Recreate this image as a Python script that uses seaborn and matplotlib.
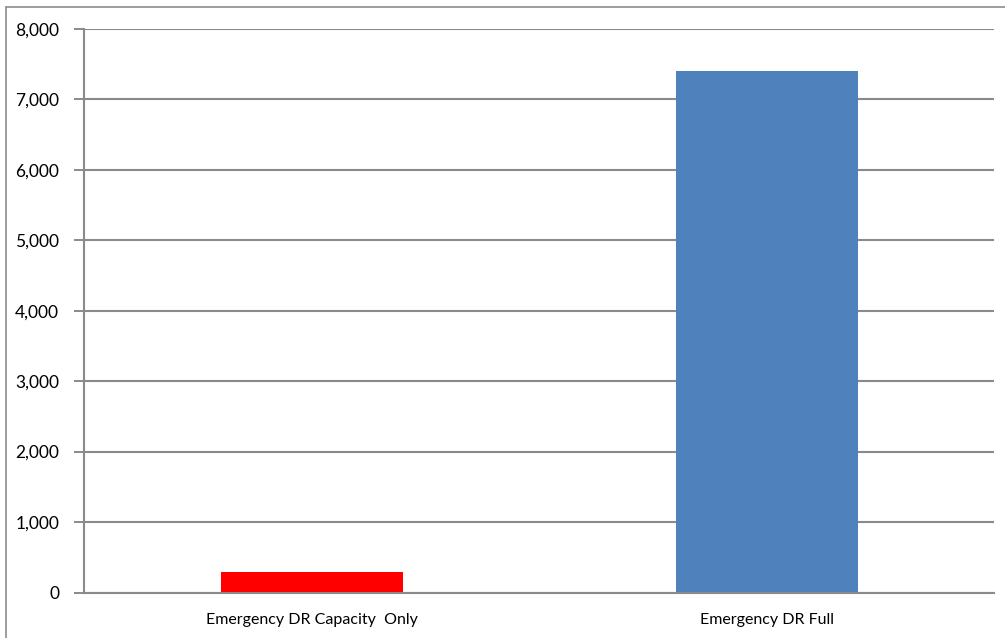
import matplotlib
matplotlib.use("Agg")
import matplotlib.pyplot as plt
from matplotlib.lines import Line2D
import seaborn as sns
import pandas as pd

categories = ["Emergency DR Capacity  Only", "Emergency DR Full"]
values = [290, 7400]
bar_colors = ["#FF0000", "#4F81BD"]
y_ticks = [0, 1000, 2000, 3000, 4000, 5000, 6000, 7000, 8000]

sns.set_theme(style="white")
plt.rcParams['font.family'] = ['Lato', 'DejaVu Sans']

df = pd.DataFrame({"category": categories, "value": values})

fig = plt.figure(figsize=(10.05, 6.38), dpi=100)
ax = fig.add_axes([84/1005, 1-592.5/638, (994-84)/1005, (592.5-29)/638])

sns.barplot(data=df, x="category", y="value", hue="category", palette=bar_colors,
            width=0.4, legend=False, ax=ax, saturation=1, zorder=3,
            linewidth=0, edgecolor="none")

grid_c = "#8A8A8A"
ax.set_ylim(0, 8000)
ax.set_xlim(-0.5, 1.5)
ax.set_yticks(y_ticks)
ax.set_yticklabels([f"{v:,}" for v in y_ticks], fontsize=12.5, color="#000000")
ax.yaxis.grid(True, color=grid_c, linewidth=1.5, zorder=0)
ax.set_axisbelow(True)
ax.set_xlabel("")
ax.set_ylabel("")

# category labels at centers, ticks at boundaries
ax.set_xticks([0, 1])
ax.set_xticklabels(categories, fontsize=11.5, color="#000000")
ax.tick_params(axis="x", length=0, pad=15)
ax.set_xticks([-0.5, 0.5, 1.5], minor=True)
ax.tick_params(axis="x", which="minor", length=5, width=1.2, color=grid_c, direction="out")
ax.tick_params(axis="y", length=7, width=1.4, color=grid_c, direction="out", left=True, pad=11)

for s in ["top", "right"]:
    ax.spines[s].set_visible(False)
for s in ["left", "bottom"]:
    ax.spines[s].set_color(grid_c)
    ax.spines[s].set_linewidth(1.5)
    ax.spines[s].set_zorder(4)

# outer chart border (visible top and left edges)
fig.add_artist(Line2D([6/1005, 1], [1-7/638, 1-7/638], transform=fig.transFigure,
                      color="#8C8C8C", linewidth=1.2))
fig.add_artist(Line2D([6/1005, 6/1005], [0, 1-7/638], transform=fig.transFigure,
                      color="#8C8C8C", linewidth=1.2))

fig.savefig("out.png", dpi=100)
